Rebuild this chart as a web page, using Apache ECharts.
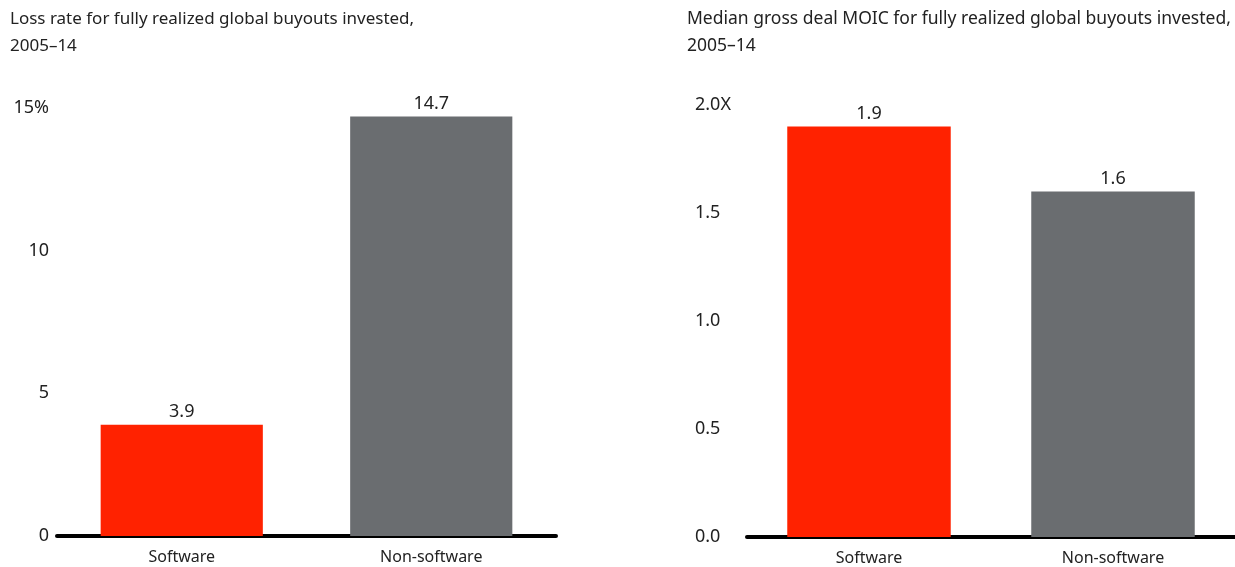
<!DOCTYPE html>
<html>
<head>
<meta charset="utf-8">
<script src="https://cdn.jsdelivr.net/npm/echarts@6/dist/echarts.min.js"></script>
<style>
  html, body { margin: 0; padding: 0; background: #fff; }
  #chart { width: 1235px; height: 567px; }
</style>
</head>
<body>
<div id="chart"></div>
<script>
// Categories shared by both panels
const categories = ['Software', 'Non-software'];

// Left panel: loss rate (%)
const lossTitle = 'Loss rate for fully realized global buyouts invested,\n2005–14';
const lossValues = [3.9, 14.7];
const lossTicks = ['0', '5', '10', '15%'];

// Right panel: median gross deal MOIC (x)
const moicTitle = 'Median gross deal MOIC for fully realized global buyouts invested,\n2005–14';
const moicValues = [1.9, 1.6];
const moicTicks = ['0.0', '0.5', '1.0', '1.5', '2.0X'];

const barColors = ['#ff2200', '#6a6d70'];
const FONT = 'Noto Sans';
const TEXT = '#222';

function barData(values) {
  return values.map((v, i) => ({ value: v, itemStyle: { color: barColors[i] } }));
}

const titleStyle = { fontFamily: FONT, fontSize: 17, fontWeight: 'normal', color: TEXT, lineHeight: 27 };
const valueLabel = {
  show: true, position: 'top', distance: 4, fontSize: 18, color: TEXT, fontFamily: FONT,
  formatter: (p) => p.value.toFixed(1)
};

const chart = echarts.init(document.getElementById('chart'));
chart.setOption({
  animation: false,
  textStyle: { fontFamily: FONT },
  title: [
    { text: lossTitle, left: 10, top: 6, padding: 0, textStyle: titleStyle },
    { text: moicTitle, left: 687, top: 6, padding: 0,
      textStyle: Object.assign({}, titleStyle, { fontSize: 17.5 }) }
  ],
  grid: [
    { left: 57, right: 679, top: 108, bottom: 31 },
    { left: 747, right: 0, top: 105, bottom: 30 }
  ],
  xAxis: [0, 1].map(i => ({
    type: 'category', gridIndex: i, data: categories,
    axisLine: { lineStyle: { color: '#000', width: 4 } },
    axisTick: { show: false },
    axisLabel: { color: TEXT, fontSize: 16, margin: 13, fontFamily: FONT }
  })),
  yAxis: [
    { type: 'value', gridIndex: 0, min: 0, max: 15, interval: 5,
      splitLine: { show: false }, axisLine: { show: false }, axisTick: { show: false },
      axisLabel: { color: TEXT, fontSize: 18, margin: 8, fontFamily: FONT,
        formatter: (v) => lossTicks[Math.round(v / 5)] } },
    { type: 'value', gridIndex: 1, min: 0, max: 2, interval: 0.5,
      splitLine: { show: false }, axisLine: { show: false }, axisTick: { show: false },
      axisLabel: { color: TEXT, fontSize: 18, margin: 52, align: 'left', fontFamily: FONT,
        formatter: (v) => moicTicks[Math.round(v / 0.5)] } }
  ],
  series: [
    { type: 'bar', xAxisIndex: 0, yAxisIndex: 0, data: barData(lossValues), barWidth: '65%',
      label: valueLabel },
    { type: 'bar', xAxisIndex: 1, yAxisIndex: 1, data: barData(moicValues), barWidth: '67%',
      label: valueLabel }
  ]
});
</script>
</body>
</html>
